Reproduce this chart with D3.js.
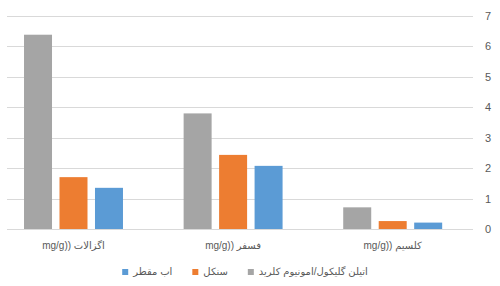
<!DOCTYPE html>
<html>
<head>
<meta charset="utf-8">
<script src="https://cdn.jsdelivr.net/npm/d3@7/dist/d3.min.js"></script>
<style>
  html, body { margin: 0; padding: 0; background: #fff; }
  svg { display: block; }
  text { font-family: "Liberation Sans", "DejaVu Sans", sans-serif; fill: #595959; }
</style>
</head>
<body>
<svg id="chart" width="500" height="286"></svg>
<script>
// data
var categories = ["mg/g)) اگزالات", "mg/g)) فسفر", "mg/g)) کلسیم"];
var seriesNames = ["اتیلن گلیکول/امونیوم کلرید", "سنکل", "اب مقطر"];
var seriesColors = ["#a5a5a5", "#ed7d31", "#5b9bd5"];
var ethyleneGlycol = [6.37, 3.79, 0.71];
var sankal = [1.70, 2.43, 0.26];
var distilledWater = [1.35, 2.07, 0.21];
var yTicks = [0, 1, 2, 3, 4, 5, 6, 7];

var seriesValues = [ethyleneGlycol, sankal, distilledWater];

var svg = d3.select("#chart");

var gridLeft = 7, gridRight = 473;

var y = d3.scaleLinear().domain([0, 7]).range([229, 15.5]);

var x0 = d3.scaleBand()
    .domain(categories)
    .range([-6.3, 472.5])
    .paddingInner(0.38)
    .paddingOuter(0.19);

var x1 = d3.scaleBand()
    .domain(d3.range(seriesNames.length))
    .range([0, x0.bandwidth()])
    .paddingInner(0.211);

// gridlines
var g_grid = svg.append("g").attr("class", "grid");
g_grid.selectAll("line")
    .data(yTicks)
    .enter().append("line")
    .attr("x1", gridLeft)
    .attr("x2", gridRight)
    .attr("y1", function(d){ return Math.round(y(d)) + 0.5; })
    .attr("y2", function(d){ return Math.round(y(d)) + 0.5; })
    .attr("stroke", "#d9d9d9")
    .attr("stroke-width", 1);

// y axis on the right
var yAxis = d3.axisRight(y)
    .tickValues(yTicks)
    .tickFormat(d3.format("d"))
    .tickSize(0)
    .tickPadding(0);
var g_y = svg.append("g")
    .attr("transform", "translate(485,0)")
    .call(yAxis);
g_y.select(".domain").remove();
g_y.selectAll("text")
    .style("font-size", "11px")
    .attr("fill", "#595959");

// bars
var g_bars = svg.append("g").attr("class", "bars");
var groups = g_bars.selectAll("g")
    .data(categories)
    .enter().append("g")
    .attr("transform", function(d){ return "translate(" + x0(d) + ",0)"; });

groups.selectAll("rect")
    .data(function(d, i){
        return seriesValues.map(function(vals, s){ return {s: s, v: vals[i]}; });
    })
    .enter().append("rect")
    .attr("x", function(d){ return x1(d.s); })
    .attr("width", x1.bandwidth())
    .attr("y", function(d){ return y(d.v); })
    .attr("height", function(d){ return y(0) - y(d.v); })
    .attr("fill", function(d){ return seriesColors[d.s]; });

// category labels
var xAxis = d3.axisBottom(x0).tickSize(0).tickPadding(0);
var g_x = svg.append("g")
    .attr("transform", "translate(0,242)")
    .call(xAxis);
g_x.select(".domain").remove();
g_x.selectAll("text")
    .style("font-size", "10px")
    .attr("fill", "#595959")
    .attr("direction", "ltr");

// legend: blue, orange, gray from left to right
var legendOrder = [2, 1, 0];
var g_leg = svg.append("g").attr("class", "legend");
var cx = 0;
legendOrder.forEach(function(s, k){
    var item = g_leg.append("g").attr("transform", "translate(" + cx + ",0)");
    item.append("rect")
        .attr("x", 0).attr("y", -6)
        .attr("width", 6).attr("height", 6)
        .attr("fill", seriesColors[s]);
    var t = item.append("text")
        .attr("x", 11).attr("y", 0)
        .style("font-size", "10px")
        .text(seriesNames[s]);
    cx += 11 + t.node().getComputedTextLength() + 20;
});
var legW = cx - 20;
g_leg.attr("transform", "translate(" + (245 - legW / 2) + ",275)");
</script>
</body>
</html>
